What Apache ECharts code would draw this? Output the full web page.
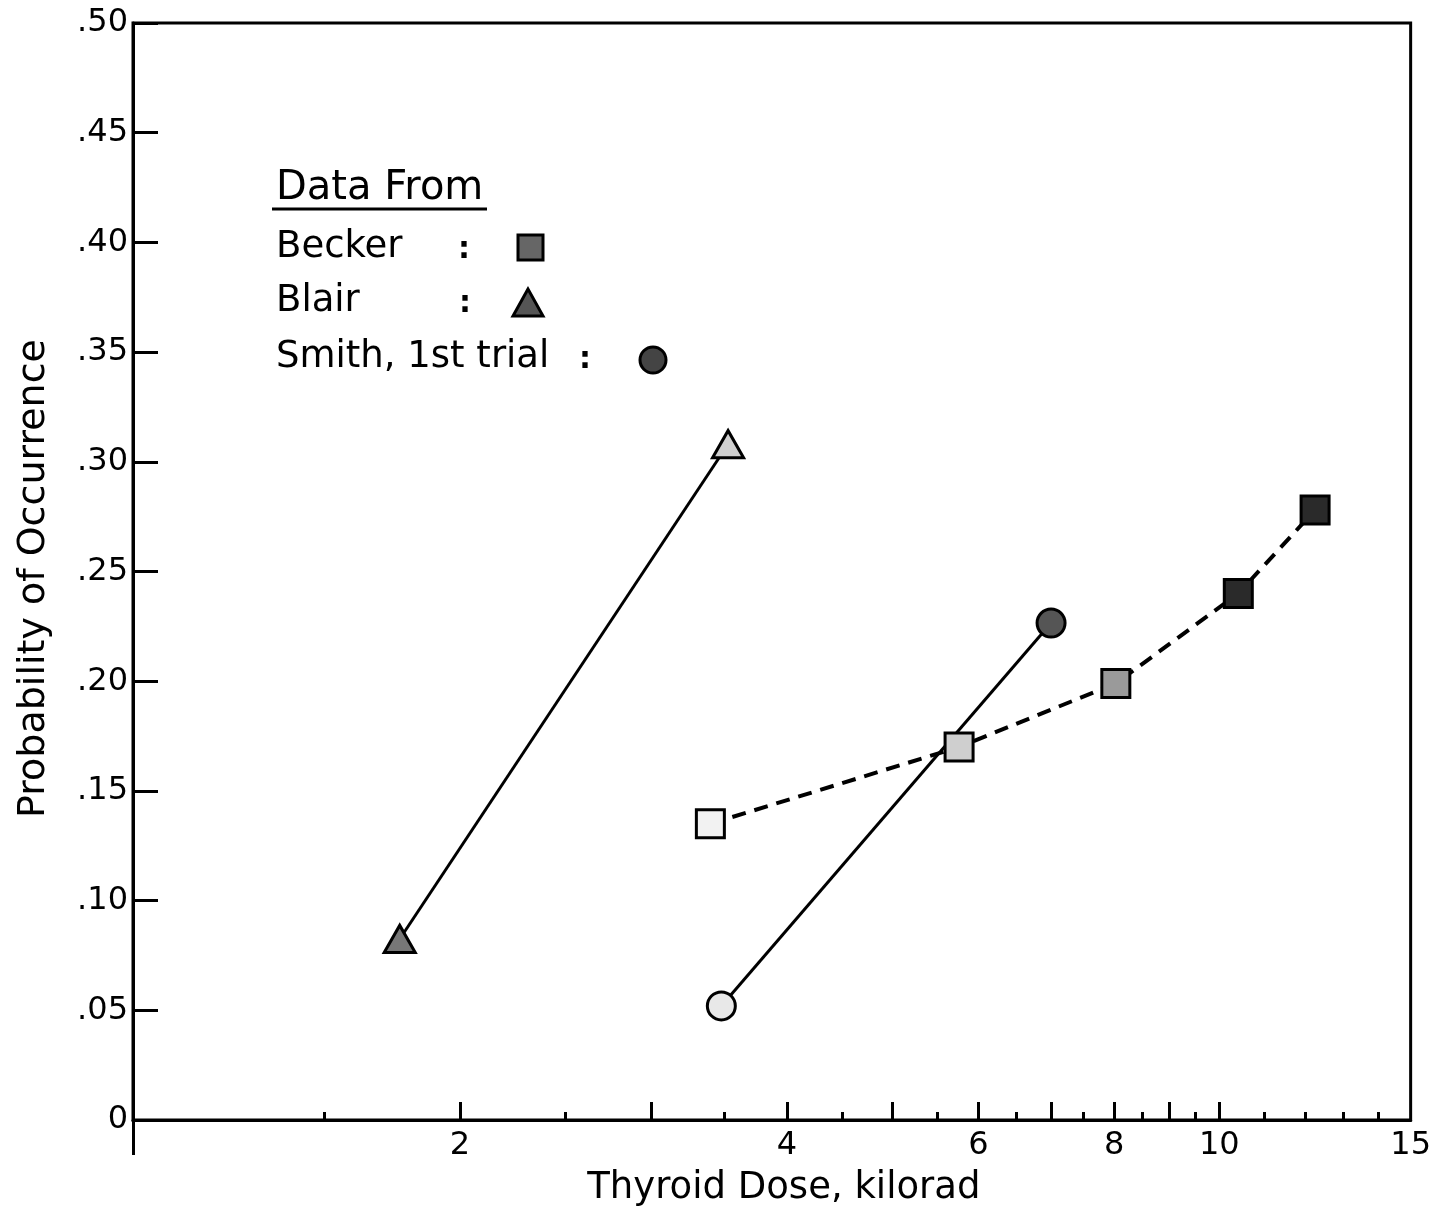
<!DOCTYPE html>
<html><head><meta charset="utf-8">
<script src="https://cdn.jsdelivr.net/npm/echarts@6/dist/echarts.min.js"></script>
<style>html,body{margin:0;padding:0;background:#fff}#c{width:1434px;height:1220px}</style>
</head><body><div id="c"></div>
<script>
// ---- data (dose in kilorad, probability of occurrence) ----
const beckerDose = [3.40, 5.76, 8.03, 10.41, 12.25];
const beckerProb = [0.135, 0.170, 0.199, 0.240, 0.278];
const blairDose = [1.76, 3.53];
const blairProb = [0.0825, 0.308];
const smithDose = [3.48, 7.00];
const smithProb = [0.052, 0.2265];
const seriesNames = ['Becker', 'Blair', 'Smith, 1st trial'];
// ---- tick labels ----
const xLabelValues = [2, 4, 6, 8, 10, 15];
const xMajorTicks = [2, 3, 4, 5, 6, 7, 8, 9, 10];
const xMinorTicks = [1.5, 2.5, 3.5, 4.5, 5.5, 6.5, 7.5, 8.5, 9.5, 11, 12, 13, 14];
const yTickLabels = ['0', '.05', '.10', '.15', '.20', '.25', '.30', '.35', '.40', '.45', '.50'];
const xMinDose = 1, xMaxDose = 15;

// ---- styles (kept apart from the data) ----
const FONT = 'DejaVu Sans';
const beckerFill = ['#f2f2f2', '#cfcfcf', '#9a9a9a', '#2a2a2a', '#2a2a2a'];
const blairFill = ['#777', '#cfcfcf'];
const smithFill = ['#e8e8e8', '#555'];

const L = v => Math.log10(v);
const toItems = (xs, ys, fills) => xs.map((x, i) => ({ value: [L(x), ys[i]], itemStyle: { color: fills[i] } }));
const black = { color: '#000', width: 3 };

const chart = echarts.init(document.getElementById('c'));
const xBase = { type: 'value', min: L(xMinDose), max: L(xMaxDose), position: 'bottom', splitLine: { show: false } };

chart.setOption({
  backgroundColor: '#fff',
  animation: false,
  grid: { left: 133, right: 22, top: 23, bottom: 100, show: true, borderColor: '#000', borderWidth: 3 },
  xAxis: [
    Object.assign({}, xBase, {
      name: 'Thyroid Dose, kilorad', nameLocation: 'middle', nameGap: 50,
      nameTextStyle: { fontFamily: FONT, fontSize: 37, color: '#000', padding: [0, 0, 0, 24] },
      axisLine: { show: true, onZero: false, lineStyle: black },
      axisTick: { show: true, inside: true, length: 18, lineStyle: black, customValues: xMajorTicks.map(L) },
      axisLabel: {
        show: true, customValues: xLabelValues.map(L), margin: 10,
        fontFamily: FONT, fontSize: 32, color: '#000',
        formatter: v => { const d = xLabelValues.find(t => Math.abs(L(t) - v) < 1e-6); return d === undefined ? '' : String(d); }
      }
    }),
    Object.assign({}, xBase, {
      axisLine: { show: false },
      axisTick: { show: true, inside: true, length: 8, lineStyle: black, customValues: xMinorTicks.map(L) },
      axisLabel: { show: false }
    }),
    Object.assign({}, xBase, {
      axisLine: { show: false },
      axisTick: { show: true, inside: false, length: 35, lineStyle: black, customValues: [L(xMinDose)] },
      axisLabel: { show: false }
    })
  ],
  yAxis: {
    type: 'value', min: 0, max: 0.5, interval: 0.05,
    name: 'Probability of Occurrence', nameLocation: 'middle', nameGap: 80, nameRotate: 90,
    nameTextStyle: { fontFamily: FONT, fontSize: 38, color: '#000', padding: [0, 14, 0, 0] },
    axisLine: { show: true, onZero: false, lineStyle: black },
    axisTick: { show: true, inside: true, length: 25, lineStyle: black },
    axisLabel: {
      margin: 5, fontFamily: FONT, fontSize: 32, color: '#000',
      formatter: v => yTickLabels[Math.round(v / 0.05)]
    },
    splitLine: { show: false }
  },
  series: [
    {
      name: seriesNames[0], type: 'line', xAxisIndex: 0,
      data: toItems(beckerDose, beckerProb, beckerFill),
      symbol: 'rect', symbolSize: 28,
      lineStyle: { color: '#000', width: 4, type: [14, 9] },
      itemStyle: { borderColor: '#000', borderWidth: 3 }
    },
    {
      name: seriesNames[1], type: 'line', xAxisIndex: 0,
      data: toItems(blairDose, blairProb, blairFill),
      symbol: 'triangle', symbolSize: [31, 27],
      lineStyle: { color: '#000', width: 3 },
      itemStyle: { borderColor: '#000', borderWidth: 3 }
    },
    {
      name: seriesNames[2], type: 'line', xAxisIndex: 0,
      data: toItems(smithDose, smithProb, smithFill),
      symbol: 'circle', symbolSize: 28,
      lineStyle: { color: '#000', width: 3 },
      itemStyle: { borderColor: '#000', borderWidth: 3 }
    }
  ],
  graphic: [
    { type: 'text', x: 276, y: 189, style: { text: 'Data From', font: '40px "DejaVu Sans"', fill: '#000', verticalAlign: 'middle' } },
    { type: 'line', shape: { x1: 272, y1: 209, x2: 487, y2: 209 }, style: { stroke: '#000', lineWidth: 3 } },
    { type: 'text', x: 276, y: 247, style: { text: seriesNames[0], font: '37px "DejaVu Sans"', fill: '#000', verticalAlign: 'middle' } },
    { type: 'text', x: 276, y: 301, style: { text: seriesNames[1], font: '37px "DejaVu Sans"', fill: '#000', verticalAlign: 'middle' } },
    { type: 'text', x: 276, y: 357, style: { text: seriesNames[2], font: '37px "DejaVu Sans"', fill: '#000', verticalAlign: 'middle' } },
    { type: 'text', x: 464, y: 250, style: { text: ':', font: 'bold 30px "DejaVu Sans"', fill: '#000', align: 'center', verticalAlign: 'middle' } },
    { type: 'text', x: 465, y: 304, style: { text: ':', font: 'bold 30px "DejaVu Sans"', fill: '#000', align: 'center', verticalAlign: 'middle' } },
    { type: 'text', x: 585, y: 360, style: { text: ':', font: 'bold 30px "DejaVu Sans"', fill: '#000', align: 'center', verticalAlign: 'middle' } },
    { type: 'rect', shape: { x: 518, y: 235, width: 25, height: 25 }, style: { fill: '#666', stroke: '#000', lineWidth: 3 } },
    { type: 'polygon', shape: { points: [[528, 289], [513, 316], [543, 316]] }, style: { fill: '#555', stroke: '#000', lineWidth: 3 } },
    { type: 'circle', shape: { cx: 653, cy: 360, r: 13 }, style: { fill: '#444', stroke: '#000', lineWidth: 3 } }
  ]
});
</script>
</body></html>
